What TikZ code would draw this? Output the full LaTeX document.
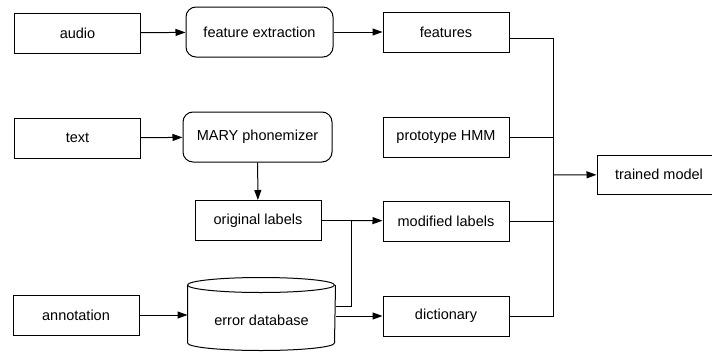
\documentclass[tikz,border=0pt]{standalone}
\usepackage{fontspec}
\setmainfont{Liberation Sans}
\usetikzlibrary{arrows.meta}

\tikzset{
  box/.style={draw, line width=1pt, minimum width=126pt, minimum height=40pt, inner sep=0pt},
  roundbox/.style={box, rounded corners=10pt, minimum height=50pt},
  dbase/.style={minimum width=147pt, minimum height=72pt, inner sep=0pt},
  arr/.style={-{Triangle[length=10pt,width=7pt]}},
}

\begin{document}
\begin{tikzpicture}[x=1pt, y=-1pt, line width=1pt, font=\fontsize{14.5}{17}\selectfont]
 \useasboundingbox (0,0) rectangle (712,351);

 \node[box] (audio) at (77.5,33) {audio};
 \node[roundbox, minimum width=147pt] (fe) at (259.5,32) {feature extraction};
 \node[box] (feat) at (446,32) {features};

 \node[box] (text) at (77.5,138) {text};
 \node[roundbox, minimum width=149pt] (mary) at (257.5,137) {MARY phonemizer};
 \node[box] (proto) at (446,137) {prototype HMM};

 \node[box] (orig) at (258,220.5) {original labels};
 \node[box] (mod) at (446,221) {modified labels};

 \node[box] (annot) at (76,315) {annotation};
 % database drawn as a cylinder round an empty node
 \node[dbase] (db) at (261.5,314) {};
 \draw ([yshift=-7.5pt]db.north west) arc[start angle=180, end angle=-180, x radius=73.5pt, y radius=7.5pt];
 \draw ([yshift=-7.5pt]db.north west) -- ([yshift=7.5pt]db.south west)
   arc[start angle=180, end angle=360, x radius=73.5pt, y radius=7.5pt]
   -- ([yshift=-7.5pt]db.north east);
 \node (dbtext) at (261.5,320) {error database};
 \node[box] (dict) at (446,316) {dictionary};

 \node[box, minimum width=124pt, minimum height=39pt] (trained) at (659,174.5) {trained model};

 \coordinate (jn) at (351,220.5);
 \coordinate (bus) at (553,175);

 \draw[arr] (audio) -- (fe);
 \draw[arr] (fe) -- (feat);
 \draw[arr] (text) -- (mary);
 \draw[arr] (mary) -- (orig);
 \draw (orig) -- (jn);
 \draw[arr] (jn) -- (mod);
 \draw ([yshift=8pt]db.east) -| (jn);
 \draw[arr] (annot) -- (annot -| db.west);
 \draw[arr] (db.east |- dict) -- (dict);

 \draw ([yshift=-6pt]feat.east) -| (bus);
 \draw (proto.east) -| (bus);
 \draw (mod.east) -| (bus);
 \draw (dict.east) -| (bus);
 \draw[arr] (bus) -- (trained);
\end{tikzpicture}
\end{document}
